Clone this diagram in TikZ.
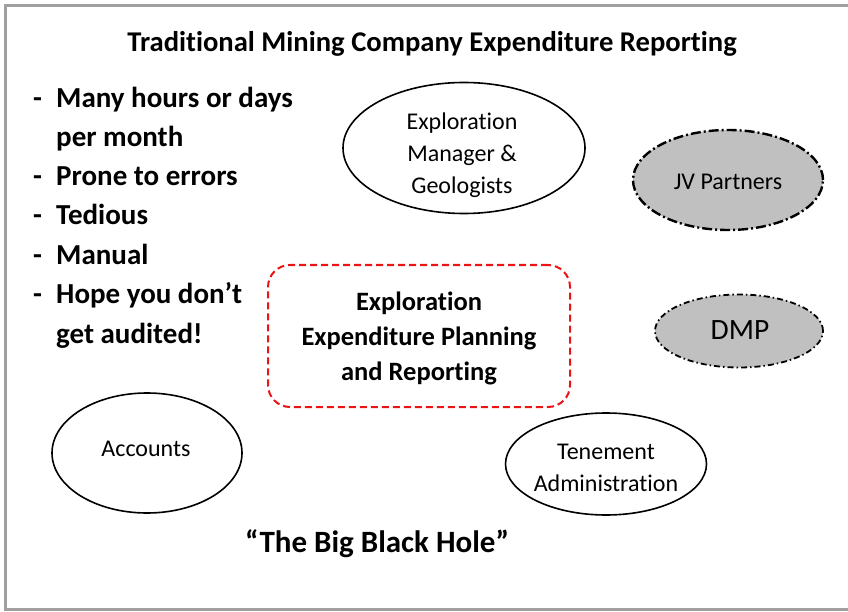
\documentclass[tikz,border=0pt]{standalone}
\usepackage{fontspec}
\setmainfont{Carlito}[Ligatures=NoCommon]
\usetikzlibrary{shapes.geometric}
\definecolor{framegray}{RGB}{160,160,160}
\definecolor{fillgray}{RGB}{192,192,192}
\definecolor{boxred}{RGB}{235,20,20}
\tikzset{
  plainell/.style={ellipse, draw=black, line width=1.6pt, inner sep=0pt},
  grayell/.style={ellipse, draw=black, fill=fillgray, inner sep=0pt},
  elltext/.style={font=\fontsize{24}{32}\selectfont, align=center, inner sep=0pt},
  bul/.style={font=\bfseries\fontsize{29}{35}\selectfont, anchor=base west, inner sep=0pt},
  centertext/.style={font=\bfseries\fontsize{26.5}{35}\selectfont, align=center, inner sep=0pt}
}
\begin{document}
\begin{tikzpicture}[x=1pt,y=-1pt]
\clip (0,0) rectangle (848,612);
\useasboundingbox (0,0) rectangle (848,612);
\fill[white] (0,0) rectangle (848,612);
% frame
\draw[framegray, line width=3pt] (5.5,5.5) rectangle (870,609.5);
% title
\node[font=\bfseries\fontsize{28.6}{30}\selectfont, anchor=base, inner sep=0pt] (title) at (432,52) {Traditional Mining Company Expenditure Reporting};
% bullets
\foreach \y [count=\i] in {108, 186, 225, 265, 303}{
  \node[bul] (d\i) at (33,\y) {-};
}
\node[bul] (b1) at (56,108) {Many hours or days};
\node[bul] (b1b) at (56,147) {per month};
\node[bul] (b2) at (56,186) {Prone to errors};
\node[bul] (b3) at (56,225) {Tedious};
\node[bul] (b4) at (56,265) {Manual};
\node[bul] (b5) at (56,303) {Hope you don’t};
\node[bul] (b5b) at (56,343) {get audited!};
% exploration manager
\node[plainell, minimum width=242pt, minimum height=131pt] (em) at (464,148) {};
\node[elltext] (emt) at (462,155) {Exploration\\Manager \&\\Geologists};
% JV partners
\node[grayell, line width=2.4pt, dash pattern=on 10pt off 3pt on 2pt off 3pt, minimum width=190pt, minimum height=100pt] (jv) at (728,180) {};
\node[elltext] (jvt) at (728,182) {JV Partners};
% DMP
\node[grayell, line width=1.8pt, dash pattern=on 6pt off 3pt on 1.5pt off 3pt, minimum width=168pt, minimum height=73pt] (dmp) at (739,331) {};
\node[font=\fontsize{29.5}{32}\selectfont, inner sep=0pt] (dmpt) at (740,330) {DMP};
% central box
\node[draw=boxred, line width=2pt, dash pattern=on 7pt off 4pt, rounded corners=22pt, minimum width=302pt, minimum height=142pt] (box) at (419,336) {};
\node[centertext] (boxt) at (419,338) {Exploration\\Expenditure Planning\\and Reporting};
% accounts
\node[plainell, minimum width=190pt, minimum height=120pt] (acc) at (147,453) {};
\node[elltext] (acct) at (146,449) {Accounts};
% tenement
\node[plainell, minimum width=201pt, minimum height=102pt] (ten) at (606,464) {};
\node[elltext] (tent) at (606,468) {Tenement\\Administration};
% big black hole
\node[font=\bfseries\fontsize{31}{34}\selectfont, anchor=base, inner sep=0pt] (hole) at (377,552) {“The Big Black Hole”};
\end{tikzpicture}
\end{document}
